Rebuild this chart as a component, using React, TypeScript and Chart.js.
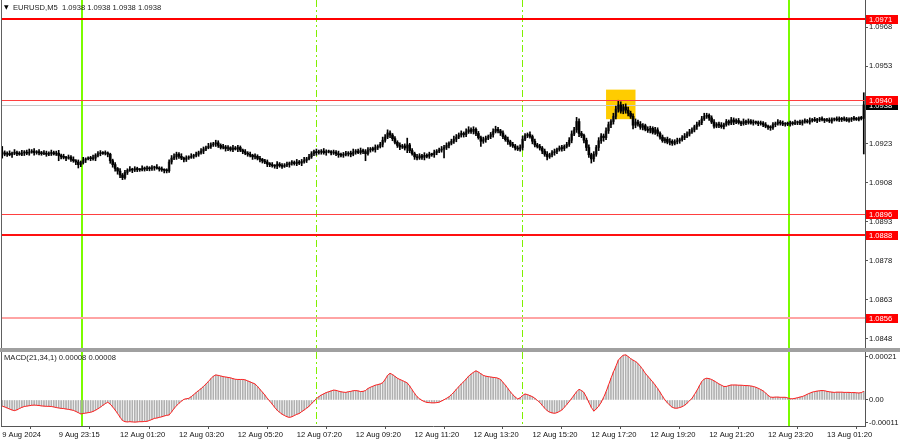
import React, { useEffect, useRef } from 'react';
import { Chart, registerables } from 'chart.js';
Chart.register(...registerables);

// ---------- data ----------
const BASE = 1.09; // closes are in pips above 1.0900
const closes = [
  19.5,19.0,19.3,18.8,19.4,19.6,19.2,19.0,19.5,19.8,
  19.4,19.8,20.2,19.6,20.0,19.5,19.2,19.4,19.0,19.3,
  19.6,19.1,19.4,18.5,18.0,17.8,17.5,17.9,17.0,16.5,
  16.0,15.0,15.8,16.8,17.2,17.4,17.3,17.5,18.6,19.2,
  19.4,19.3,19.5,19.0,16.5,15.0,13.5,12.5,11.0,10.0,
  12.0,12.8,13.2,12.9,13.4,13.1,13.0,13.5,13.3,13.6,
  13.4,13.8,14.0,13.6,13.3,13.0,12.8,12.6,16.0,17.5,
  18.0,19.0,18.2,17.5,17.0,17.6,17.8,18.2,18.6,19.0,
  19.6,20.2,21.0,21.5,22.0,22.6,23.0,23.4,22.4,21.6,
  21.8,21.2,21.5,20.8,21.4,21.0,21.6,20.6,20.0,19.4,
  19.0,18.6,18.0,18.2,17.4,17.0,16.4,16.0,15.2,15.0,
  14.6,14.4,15.2,14.6,14.3,14.8,15.0,15.6,15.8,15.4,
  16.0,15.6,16.2,16.6,17.2,18.0,19.2,20.0,19.6,19.8,
  20.2,19.6,19.9,20.0,19.5,19.8,19.2,18.8,18.6,18.9,
  19.1,19.4,19.0,19.8,20.2,19.6,20.4,20.0,19.2,20.6,
  21.0,20.8,21.6,22.0,22.8,24.4,25.6,27.2,26.4,25.0,
  23.6,22.4,21.8,22.2,21.4,22.6,20.4,19.2,18.0,17.6,
  18.4,17.8,18.6,18.2,19.0,18.8,19.6,20.2,20.6,21.0,
  21.6,22.4,23.2,24.0,24.8,25.6,26.4,27.0,26.6,27.6,
  28.4,27.8,28.6,27.0,25.4,24.0,24.6,25.2,25.8,26.6,
  27.8,28.6,28.0,27.2,25.8,24.6,23.8,22.8,22.2,21.4,
  21.0,21.6,24.8,26.2,26.6,25.8,24.0,22.6,22.0,21.4,
  20.2,19.0,18.0,18.8,19.6,20.0,20.8,21.4,21.2,22.0,
  22.8,24.4,26.8,28.4,31.6,27.0,26.2,24.4,21.6,18.8,
  17.2,19.0,21.6,24.2,26.0,25.4,28.0,30.4,31.6,33.6,
  36.4,38.0,35.6,37.2,36.0,34.8,33.6,30.2,31.4,30.6,
  29.4,30.0,28.6,28.2,29.0,27.4,28.4,27.0,25.6,24.2,
  24.8,23.6,24.0,23.2,23.8,24.2,24.6,25.4,26.0,26.8,
  27.6,28.4,29.6,30.4,31.2,32.6,33.6,34.0,33.0,31.4,
  29.8,30.6,30.2,29.6,30.4,31.6,31.0,32.2,31.4,32.0,
  31.2,30.8,31.6,31.2,31.8,31.0,31.4,31.2,30.8,31.0,
  30.4,29.8,29.4,29.2,30.4,30.8,31.4,31.0,30.6,30.8,
  30.6,31.0,30.8,31.2,31.4,31.0,31.6,31.8,31.4,32.0,
  32.4,32.0,32.2,32.6,32.4,32.0,32.2,31.8,32.4,32.6,
  32.2,32.8,32.4,32.6,32.0,32.4,32.8,32.6,32.4,33.0,
  32.8,38.0,
];
// upper / lower shadow length beyond the body, tenths of a pip
const wickUp = [
  25,8,6,10,4,12,6,8,10,6, 8,12,6,10,4,8,6,10,8,6, 10,6,8,11,6,10,4,8,6,10, 4,8,6,10,4,6,8,12,6,8,
  10,6,8,4,4,6,8,4,10,6, 8,6,10,4,8,6,4,10,6,8, 6,8,4,10,6,8,4,6,8,10, 12,8,6,10,4,8,6,10,4,8,
  6,10,8,6,12,8,6,10,8,6, 10,6,8,4,10,6,8,6,4,8, 6,8,4,10,6,8,4,6,8,6, 8,4,10,6,8,6,10,4,8,6,
  10,6,8,12,6,10,8,6,10,8, 6,10,8,6,4,8,6,10,6,8, 10,6,8,12,6,8,10,6,8,10, 6,8,10,6,8,12,10,12,8,6,
  8,6,10,6,8,26,6,8,6,10, 8,6,10,6,8,4,10,6,8,10, 8,10,6,8,12,10,8,10,6,12, 12,8,10,6,8,6,10,8,6,8,
  10,12,8,6,8,6,10,6,8,6, 8,10,12,8,6,10,6,8,6,8, 6,8,10,6,8,10,6,8,10,6, 8,10,12,10,16,10,8,6,8,10,
  6,10,8,12,10,8,12,10,8,12, 12,18,12,10,12,12,8,10,12,8, 10,8,6,10,8,6,10,8,6,8, 6,8,10,6,8,10,6,8,10,8,
  10,8,6,10,8,10,12,8,6,8, 10,6,8,10,6,8,6,10,8,6, 8,6,10,6,8,6,8,4,6,8, 6,8,4,6,8,6,10,6,8,4,
  6,8,6,10,4,8,6,8,6,10, 4,8,6,6,8,4,6,8,6,4, 8,6,4,8,6,6,4,8,6,4, 6,47,
];
const wickDn = [
  20,6,8,4,10,6,8,4,6,10, 6,8,4,10,6,8,6,4,8,6, 8,4,6,20,8,6,10,4,8,6, 10,13,8,6,10,4,8,6,10,6,
  8,4,6,10,10,10,10,12,10,8, 6,8,4,10,6,8,6,4,8,6, 8,6,10,4,8,6,10,8,6,8, 6,10,8,6,10,8,6,4,8,6,
  8,6,10,6,4,8,6,10,8,6, 6,10,8,6,8,4,10,6,8,6, 8,6,10,8,6,10,8,6,10,8, 6,8,10,6,8,4,6,10,8,6,
  8,6,10,6,8,4,6,8,10,6, 8,6,10,4,8,6,8,10,6,8, 6,8,10,6,8,4,6,8,27,6, 8,6,10,8,6,10,8,6,10,8,
  6,8,10,6,8,18,8,6,10,8, 6,8,10,6,8,6,10,8,6,8, 34,8,10,6,8,10,6,8,10,8, 6,8,10,8,6,20,8,10,6,8,
  10,6,8,10,8,6,10,8,6,8, 6,8,10,6,8,6,10,8,6,8, 10,8,12,6,8,10,8,6,10,8, 6,8,10,6,10,12,8,10,12,10,
  16,10,8,12,10,14,8,10,12,10, 10,12,8,10,12,10,8,14,10,8, 8,10,6,8,10,6,8,10,8,6, 8,6,10,8,6,8,10,6,8,6,
  8,6,8,10,6,8,6,8,10,6, 8,6,10,6,8,6,8,6,10,6, 6,8,6,8,6,4,8,6,8,6, 8,6,8,10,6,8,6,8,6,8,
  6,8,6,4,8,6,8,6,4,8, 6,4,8,6,6,8,4,6,8,6, 4,6,8,6,4,6,8,6,4,6, 6,137,
];
// MACD(21,34,1) main value, in 0.00001 units (signal SMA(1) equals it)
const macd = [
  -3.0,-3.4,-3.9,-4.4,-4.9,-5.2,-4.8,-4.2,-3.6,-3.2,
  -3.0,-2.8,-2.6,-2.5,-2.6,-2.7,-2.9,-3.0,-3.1,-3.1,
  -3.2,-3.4,-3.7,-3.9,-4.1,-4.2,-4.4,-4.6,-4.8,-5.1,
  -5.6,-6.2,-6.8,-6.6,-6.4,-6.2,-6.0,-5.6,-5.0,-4.3,
  -3.5,-2.6,-1.8,-1.1,-2.0,-3.4,-4.9,-6.6,-8.4,-10.0,
  -10.6,-10.7,-10.6,-10.7,-10.8,-10.7,-10.6,-10.6,-10.5,-10.4,
  -10.0,-9.5,-9.0,-8.8,-8.5,-8.2,-7.8,-7.5,-7.3,-5.8,
  -4.2,-2.8,-1.6,-0.6,0.3,0.6,0.8,1.6,2.6,3.6,
  4.6,5.5,6.6,7.8,9.0,10.4,11.6,12.2,12.0,11.7,
  11.4,11.2,11.0,10.8,10.4,10.1,10.0,10.0,10.0,9.8,
  9.3,8.8,8.3,7.8,6.6,5.2,3.8,2.4,0.8,-0.6,
  -2.0,-3.6,-5.0,-6.0,-6.9,-7.6,-8.2,-8.5,-8.2,-7.6,
  -7.0,-6.6,-5.7,-4.9,-4.0,-3.1,-1.8,-0.6,0.6,1.6,
  2.4,3.0,3.6,4.0,4.4,4.8,4.7,4.3,4.0,3.8,
  3.7,4.0,4.2,4.5,4.6,4.4,4.1,4.2,4.6,5.6,
  6.2,6.7,7.2,7.5,7.8,8.4,10.0,12.0,13.0,12.4,
  11.5,10.6,10.0,9.5,8.9,8.3,6.8,5.0,3.2,1.6,
  0.6,-0.2,-0.8,-1.2,-1.3,-1.4,-1.4,-1.3,-1.1,-0.5,
  0.1,0.8,1.5,2.6,3.8,5.2,6.5,7.8,8.9,10.2,
  11.6,12.6,13.5,14.2,13.6,12.8,12.0,11.6,11.4,11.2,
  11.0,10.9,10.6,10.0,8.6,7.2,5.6,4.0,2.6,1.4,
  0.5,1.0,2.2,2.9,2.6,2.1,1.6,0.8,-0.2,-1.2,
  -2.6,-4.0,-5.2,-5.9,-6.3,-6.5,-6.2,-5.6,-4.9,-3.6,
  -2.2,-0.8,0.8,2.4,4.0,5.2,4.6,3.6,1.4,-1.2,
  -3.6,-5.4,-4.4,-3.0,-1.2,1.2,4.0,7.2,10.6,13.6,
  16.4,19.4,20.8,21.8,22.0,21.2,20.2,19.4,18.8,17.8,
  16.4,14.8,13.0,11.6,10.2,8.8,7.3,5.6,3.8,1.8,
  0.0,-1.4,-2.6,-3.6,-4.0,-4.0,-3.7,-3.3,-2.6,-1.6,
  -0.4,0.8,2.6,4.6,6.8,9.0,10.2,10.6,10.4,10.0,
  9.3,8.6,7.8,7.2,6.6,6.6,7.0,7.3,7.3,7.3,
  7.2,7.2,7.1,7.0,7.0,6.8,6.6,6.2,5.7,5.1,
  4.4,3.4,2.3,1.4,1.3,1.4,1.4,1.3,1.3,1.3,
  1.0,0.6,0.6,0.8,1.1,1.4,1.7,2.2,2.8,3.3,
  3.8,4.1,4.3,4.5,4.6,4.5,4.2,4.0,3.8,3.7,
  3.8,3.8,3.8,3.7,3.7,3.7,3.6,3.6,3.5,3.4,
  3.6,4.2,
];

const timeLabels = ['9 Aug 2024','9 Aug 23:15','12 Aug 01:20','12 Aug 03:20','12 Aug 05:20','12 Aug 07:20','12 Aug 09:20','12 Aug 11:20','12 Aug 13:20','12 Aug 15:20','12 Aug 17:20','12 Aug 19:20','12 Aug 21:20','12 Aug 23:20','13 Aug 01:20'];
const timeLabelBars = [0,23,48,72,96,120,144,168,192,216,240,264,288,312,336];
const priceTicks = [1.0848,1.0863,1.0878,1.0893,1.0908,1.0923,1.0938,1.0953,1.0968];
const macdTicks = [-0.00011, 0, 0.00021];
const macdTickLabels = ['-0.00011', '0.00', '0.00021'];
const levels = [1.0971, 1.0940, 1.0896, 1.0888, 1.0856];
const levelLabels = ['1.0971', '1.0940', '1.0896', '1.0888', '1.0856'];
const bidPrice = 1.0938;
const dayBreakBars = [32.5, 320.5];
const sessionBars = [128, 212];
const boxBars = [246, 258];
const boxPrices = [1.09325, 1.09439];
const titleText = 'EURUSD,M5  1.0938 1.0938 1.0938 1.0938';
const macdTitle = 'MACD(21,34,1) 0.00008 0.00008';

// ---------- style ----------
const FONT = 'Liberation Sans, Arial, DejaVu Sans, sans-serif';
const FS = 7.6;
const levelColors = ['#ff0000', '#ff4040', '#ff4040', '#ff1010', '#ffa4a4'];
const levelWidths = [2, 1, 1, 2, 2];
const PMIN = 1.084432, PMAX = 1.097844;
const MMIN = -0.000127, MMAX = 0.000234;
const AXIS_W = 35;

const N = closes.length;
const X_MIN = -0.5, X_MAX = N - 0.5;

function drawVLines(chart: any) {
  const { ctx, chartArea: a, scales: { x } } = chart;
  ctx.save();
  ctx.beginPath();
  ctx.rect(a.left, a.top, a.right - a.left, a.bottom - a.top);
  ctx.clip();
  ctx.strokeStyle = '#7cfc00';
  ctx.lineWidth = 2;
  dayBreakBars.forEach((b) => {
    const px = Math.round(x.getPixelForValue(b));
    ctx.beginPath(); ctx.moveTo(px, a.top); ctx.lineTo(px, a.bottom); ctx.stroke();
  });
  ctx.lineWidth = 1;
  ctx.strokeStyle = '#80f000';
  ctx.setLineDash([7, 3, 2, 3]);
  sessionBars.forEach((b) => {
    const px = Math.floor(x.getPixelForValue(b)) + 0.5;
    ctx.beginPath(); ctx.moveTo(px, a.top); ctx.lineTo(px, a.bottom); ctx.stroke();
  });
  ctx.restore();
}

const priceOverlay = {
  id: 'priceOverlay',
  beforeDatasetsDraw(chart: any) {
    const { ctx, chartArea: a, scales: { x, y } } = chart;
    ctx.save();
    ctx.beginPath();
    ctx.rect(a.left, a.top, a.right - a.left, a.bottom - a.top);
    ctx.clip();
    const bx0 = x.getPixelForValue(boxBars[0]);
    const bx1 = x.getPixelForValue(boxBars[1]);
    const by0 = y.getPixelForValue(boxPrices[1]);
    const by1 = y.getPixelForValue(boxPrices[0]);
    ctx.fillStyle = '#ffcc00';
    ctx.fillRect(bx0, by0, bx1 - bx0, by1 - by0);
    const yb = Math.round(y.getPixelForValue(bidPrice)) + 0.5;
    ctx.strokeStyle = '#c8c8c8';
    ctx.lineWidth = 1;
    ctx.beginPath(); ctx.moveTo(a.left, yb); ctx.lineTo(a.right, yb); ctx.stroke();
    ctx.restore();
    drawVLines(chart);
  },
  afterDatasetsDraw(chart: any) {
    const { ctx, chartArea: a, scales: { y } } = chart;
    ctx.save();
    levels.forEach((lv, i) => {
      const w = levelWidths[i];
      let py = y.getPixelForValue(lv);
      py = w % 2 ? Math.round(py) + 0.5 : Math.round(py);
      ctx.strokeStyle = levelColors[i];
      ctx.lineWidth = w;
      ctx.beginPath(); ctx.moveTo(a.left, py); ctx.lineTo(a.right, py); ctx.stroke();
    });
    ctx.strokeStyle = '#606060';
    ctx.lineWidth = 1;
    ctx.beginPath(); ctx.moveTo(a.left + 0.5, 0); ctx.lineTo(a.left + 0.5, chart.height); ctx.stroke();
    ctx.restore();
  },
  afterDraw(chart: any) {
    const { ctx, chartArea: a, scales: { y } } = chart;
    ctx.save();
    ctx.font = `${FS}px ${FONT}`;
    ctx.textBaseline = 'middle';
    ctx.textAlign = 'left';
    const yb = Math.round(y.getPixelForValue(bidPrice));
    ctx.fillStyle = '#000';
    ctx.fillRect(a.right + 1, yb - 4, chart.width - a.right - 3, 9);
    ctx.fillStyle = '#fff';
    ctx.fillText(bidPrice.toFixed(4), a.right + 4, yb + 0.5);
    levels.forEach((lv, i) => {
      const py = Math.round(y.getPixelForValue(lv));
      ctx.fillStyle = '#ff0000';
      ctx.fillRect(a.right + 1, py - 4, chart.width - a.right - 3, 9);
      ctx.fillStyle = '#fff';
      ctx.fillText(levelLabels[i], a.right + 4, py + 0.5);
    });
    ctx.fillStyle = '#000';
    ctx.font = `6px DejaVu Sans, sans-serif`;
    ctx.fillText('\u25BC', a.left + 3, 7);
    ctx.font = `${FS}px ${FONT}`;
    ctx.fillStyle = '#222';
    ctx.fillText(titleText, a.left + 12, 7.5);
    ctx.restore();
  },
};

const macdOverlay = {
  id: 'macdOverlay',
  beforeDatasetsDraw(chart: any) {
    drawVLines(chart);
  },
  afterDraw(chart: any) {
    const { ctx, chartArea: a } = chart;
    ctx.save();
    ctx.strokeStyle = '#606060';
    ctx.lineWidth = 1;
    ctx.beginPath(); ctx.moveTo(a.left + 0.5, 0); ctx.lineTo(a.left + 0.5, a.bottom); ctx.stroke();
    ctx.font = `${FS}px ${FONT}`;
    ctx.textBaseline = 'middle';
    ctx.fillStyle = '#222';
    ctx.fillText(macdTitle, a.left + 3, 6);
    ctx.restore();
  },
};

export default function App() {
  const priceRef = useRef<HTMLCanvasElement>(null);
  const macdRef = useRef<HTMLCanvasElement>(null);

  useEffect(() => {
    document.body.style.margin = '0';
    const opens = closes.map((c, i) => (i > 0 ? closes[i - 1] : c));
    const wicks = closes.map((c, i) => {
      const top = Math.max(opens[i], c) + wickUp[i] / 10;
      const bot = Math.min(opens[i], c) - wickDn[i] / 10;
      return { x: i, y: [BASE + bot / 10000, BASE + top / 10000] };
    });
    const bodies = closes.map((c, i) => ({ x: i, y: [BASE + opens[i] / 10000, BASE + c / 10000] }));
    const bodyColors = closes.map((c, i) => (c >= opens[i] ? '#555555' : '#000000'));

    const tickFont = { family: FONT, size: FS };

    const priceChart = new Chart(priceRef.current as HTMLCanvasElement, {
      type: 'bar',
      data: {
        datasets: [
          { type: 'bar', data: wicks as any, backgroundColor: '#000', barThickness: 1, grouped: false, order: 0 } as any,
          { type: 'bar', data: bodies as any, backgroundColor: bodyColors, barThickness: 2, grouped: false, minBarLength: 1, order: 1 } as any,
        ],
      },
      options: {
        animation: false,
        responsive: false,
        maintainAspectRatio: false,
        events: [],
        layout: { padding: { left: 1, top: 0, right: 0, bottom: 0 } },
        plugins: { legend: { display: false }, tooltip: { enabled: false } },
        scales: {
          x: { type: 'linear', min: X_MIN, max: X_MAX, display: false, offset: false },
          y: {
            type: 'linear', position: 'right', min: PMIN, max: PMAX,
            afterFit: (s: any) => { s.width = AXIS_W; s.paddingTop = 0; s.paddingBottom = 0; },
            afterBuildTicks: (s: any) => { s.ticks = priceTicks.map((v) => ({ value: v })); },
            ticks: { callback: (v: any) => Number(v).toFixed(4), font: tickFont, color: '#111', padding: 1 },
            grid: { drawOnChartArea: false, tickLength: 3, color: '#555' },
            border: { color: '#555' },
          },
        },
      } as any,
      plugins: [priceOverlay],
    });

    const macdChart = new Chart(macdRef.current as HTMLCanvasElement, {
      type: 'bar',
      data: {
        datasets: [
          { type: 'line', data: macd.map((v, i) => ({ x: i, y: v / 100000 })), borderColor: '#ff2020', borderWidth: 1, pointRadius: 0, tension: 0, order: 0 } as any,
          { type: 'bar', data: macd.map((v, i) => ({ x: i, y: v / 100000 })), backgroundColor: '#b0b0b0', barThickness: 1, grouped: false, order: 1 } as any,
        ],
      },
      options: {
        animation: false,
        responsive: false,
        maintainAspectRatio: false,
        events: [],
        layout: { padding: { left: 1, top: 0, right: 0, bottom: 0 } },
        plugins: { legend: { display: false }, tooltip: { enabled: false } },
        scales: {
          x: {
            type: 'linear', min: X_MIN, max: X_MAX, offset: false, position: 'bottom',
            afterFit: (s: any) => { s.height = 15; s.paddingLeft = 0; s.paddingRight = 0; },
            afterBuildTicks: (s: any) => { s.ticks = timeLabelBars.map((v) => ({ value: v })); },
            ticks: { callback: (_v: any, i: number) => timeLabels[i], font: tickFont, color: '#111', align: 'start', autoSkip: false, maxRotation: 0, minRotation: 0, padding: 1 },
            grid: { drawOnChartArea: false, tickLength: 3, color: '#555' },
            border: { color: '#555' },
          },
          y: {
            type: 'linear', position: 'right', min: MMIN, max: MMAX,
            afterFit: (s: any) => { s.width = AXIS_W; s.paddingTop = 0; s.paddingBottom = 0; },
            afterBuildTicks: (s: any) => { s.ticks = macdTicks.map((v) => ({ value: v })); },
            ticks: { callback: (_v: any, i: number) => macdTickLabels[i], font: tickFont, color: '#111', padding: 1 },
            grid: { drawOnChartArea: false, tickLength: 3, color: '#555' },
            border: { color: '#555' },
          },
        },
      } as any,
      plugins: [macdOverlay],
    });

    return () => { priceChart.destroy(); macdChart.destroy(); };
  }, []);

  return (
    <div style={{ width: 900, height: 441, background: '#fff', overflow: 'hidden' }}>
      <canvas ref={priceRef} width={900} height={348} style={{ display: 'block' }} />
      <div style={{ height: 4, background: '#a0a0a0' }} />
      <canvas ref={macdRef} width={900} height={89} style={{ display: 'block' }} />
    </div>
  );
}
